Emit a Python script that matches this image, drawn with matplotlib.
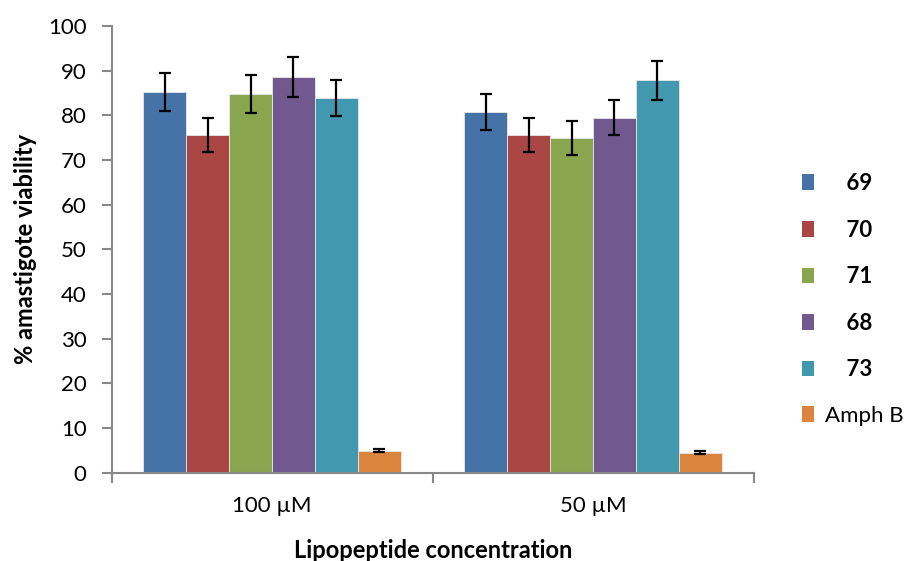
import numpy as np
import matplotlib.pyplot as plt
from matplotlib.patches import Patch

plt.rcParams['font.family'] = ['Lato', 'DejaVu Sans']

# Input Data
groups = ['100 µM', '50 µM']
series = ['69', '70', '71', '68', '73', 'Amph B']
values = {
    '69': [85.2, 80.7],
    '70': [75.6, 75.5],
    '71': [84.8, 74.9],
    '68': [88.6, 79.5],
    '73': [83.9, 87.8],
    'Amph B': [4.9, 4.5],
}
errors = {
    '69': [4.3, 4.0],
    '70': [3.7, 3.8],
    '71': [4.2, 3.8],
    '68': [4.5, 4.0],
    '73': [4.1, 4.4],
    'Amph B': [0.3, 0.25],
}
colors = ['#4572A7', '#AA4643', '#89A54E', '#71588F', '#4198AF', '#DB843D']

fig = plt.figure(figsize=(9.05, 5.61), dpi=100)
ax = fig.add_axes([111.7 / 905, 88.3 / 561, 642 / 905, 446.7 / 561])

x = np.arange(len(groups))
width = 0.1339
for i, name in enumerate(series):
    pos = x - 0.5 + 0.0977 + width * (i + 0.5)
    ax.bar(pos, values[name], width, color=colors[i], edgecolor='#e8e8e8', linewidth=0.6,
           yerr=errors[name], error_kw=dict(ecolor='black', elinewidth=1.6, capsize=4.3, capthick=1.6))

ax.set_xlim(-0.5, 1.5)
ax.set_ylim(0, 100)
ax.set_yticks(range(0, 101, 10))
ax.set_xticks(x)
ax.set_xticklabels(groups)
ax.set_xticks([-0.5, 0.5, 1.5], minor=True)
ax.tick_params(axis='x', which='major', length=0, labelsize=16, pad=17)
ax.tick_params(axis='x', which='minor', length=7, width=1.5, color='#888888')
ax.tick_params(axis='y', length=7, width=1.5, color='#888888', labelsize=16, pad=11)

for s in ['top', 'right']:
    ax.spines[s].set_visible(False)
for s in ['left', 'bottom']:
    ax.spines[s].set_color('#888888')
    ax.spines[s].set_linewidth(1.5)

ax.set_xlabel('Lipopeptide concentration', fontsize=17, fontweight='bold', labelpad=16)
ax.set_ylabel('% amastigote viability', fontsize=17, fontweight='bold', labelpad=8)

handles = [Patch(facecolor=c) for c in colors]
labels = ['    ' + s if s != 'Amph B' else s for s in series]
leg = fig.legend(handles, labels, loc='upper left', bbox_to_anchor=(782 / 905, 1 - 153 / 561),
                 frameon=False, fontsize=16, handlelength=0.55, handleheight=0.7,
                 handletextpad=0.5, labelspacing=1.15)
for t in leg.get_texts():
    if t.get_text().strip() != 'Amph B':
        t.set_fontweight('bold')

plt.savefig('out.png', dpi=100)
